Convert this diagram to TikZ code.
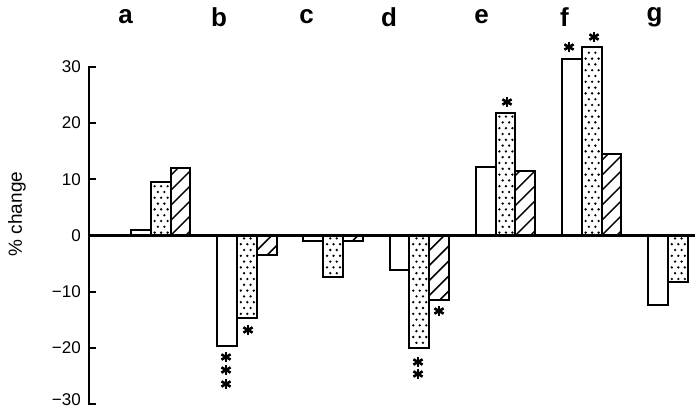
\documentclass[tikz,border=0pt]{standalone}
\usepackage{fontspec}
\setmainfont{Liberation Sans}
\newcommand\zy{174.5}
\newcommand\myS{5.62}
\newcommand\bw{19.8}
\tikzset{
  barline/.style={line width=2pt, fill=white},
  outline/.style={line width=2pt},
  hatchline/.style={line width=1.5pt},
  axisline/.style={line width=2.4pt},
  ticklab/.style={anchor=east, font=\fontsize{17}{17}\selectfont, inner sep=0pt},
  grplab/.style={font=\fontsize{26}{26}\selectfont\bfseries, inner sep=0pt},
  ylab/.style={font=\fontsize{19}{19}\selectfont, rotate=90, inner sep=0pt},
  astk/.pic={\foreach \a in {90,30,150}{\draw[line width=2.6pt] (\a:5.3pt) -- (\a+180:5.3pt);}}
}
\newcommand\openbar[2]{\draw[barline] (#1,\zy) rectangle ({#1+\bw},{\zy+\myS*(#2)});}
\newcommand\dotbar[2]{%
  \draw[barline] (#1,\zy) rectangle ({#1+\bw},{\zy+\myS*(#2)});
  \pgfmathsetmacro\sg{sign(#2)}
  \begin{scope}
    \clip ({#1+1.6},{\zy+1.4*\sg}) rectangle ({#1+\bw-1.6},{\zy+\myS*(#2)-1.4*\sg});
    \foreach \r in {-36,...,36}{\foreach \c in {0,1,2}{
      \fill ({#1+3.8+6.5*\c+3.25*mod(abs(\r),2)},{\zy+2.9+5.8*\r}) circle (1.3pt);}}
  \end{scope}}
\newcommand\hatchbar[2]{%
  \draw[barline] (#1,\zy) rectangle ({#1+\bw},{\zy+\myS*(#2)});
  \begin{scope}
    \clip (#1,\zy) rectangle ({#1+\bw},{\zy+\myS*(#2)});
    \foreach \k in {-16,...,16}{\draw[hatchline] (#1,{\zy+15*\k}) -- ++(40,40);}
  \end{scope}
  \draw[outline] (#1,\zy) rectangle ({#1+\bw},{\zy+\myS*(#2)});}
\begin{document}
\begin{tikzpicture}[x=1pt,y=1pt]
\useasboundingbox (0,0) rectangle (695,410);
% group a
\openbar{131}{1}
\dotbar{150.8}{9.5}
\hatchbar{170.6}{12}
% group b
\openbar{217.2}{-19.7}
\dotbar{237}{-14.7}
\hatchbar{256.8}{-3.5}
% group c
\openbar{303.4}{-1}
\dotbar{323.2}{-7.4}
\hatchbar{343}{-1}
% group d
\openbar{389.6}{-6.1}
\dotbar{409.4}{-20.1}
\hatchbar{429.2}{-11.5}
% group e
\openbar{475.8}{12.2}
\dotbar{495.6}{21.8}
\hatchbar{515.4}{11.5}
% group f
\openbar{562}{31.4}
\dotbar{581.8}{33.5}
\hatchbar{601.6}{14.5}
% group g
\openbar{648.2}{-12.4}
\dotbar{668}{-8.3}
% axes
\coordinate (ytop) at (89,{\zy+\myS*30});
\coordinate (ybot) at (89,{\zy-\myS*30});
\coordinate (o) at (89,\zy);
\coordinate (xend) at (695,\zy);
\draw[axisline] (ytop) -- (ybot);
\draw[line width=2.2pt] (o) -- (xend);
\foreach \v/\t in {30/30,20/20,10/10,0/0,-10/−10,-20/−20}{
  \draw[axisline] (88,{\zy+\myS*\v}) -- (96,{\zy+\myS*\v});
  \node[ticklab] (t\v) at (81,{\zy+\myS*\v}) {\t};
}
\draw[axisline] (88,{\zy-\myS*30}) -- (96,{\zy-\myS*30});
\node[ticklab] (tm30) at (81,{\zy-\myS*30+4.5}) {−30};
\node[ylab] (yl) at (17,196) {\% change};
% group labels
\node[grplab] (la) at (125.5,393) {a};
\node[grplab] (lb) at (219,393) {b};
\node[grplab] (lc) at (306.5,393) {c};
\node[grplab] (ld) at (389,393) {d};
\node[grplab] (le) at (481.5,393) {e};
\node[grplab] (lf) at (564.5,393) {f};
\node[grplab] (lg) at (654.5,393) {g};
% significance stars
\pic at (226,53) {astk};
\pic at (226,40) {astk};
\pic at (226,26) {astk};
\pic at (248,80) {astk};
\pic at (418,48) {astk};
\pic at (418,36) {astk};
\pic at (439,99) {astk};
\pic at (507,308) {astk};
\pic at (569,363) {astk};
\pic at (594,373) {astk};
\end{tikzpicture}
\end{document}
